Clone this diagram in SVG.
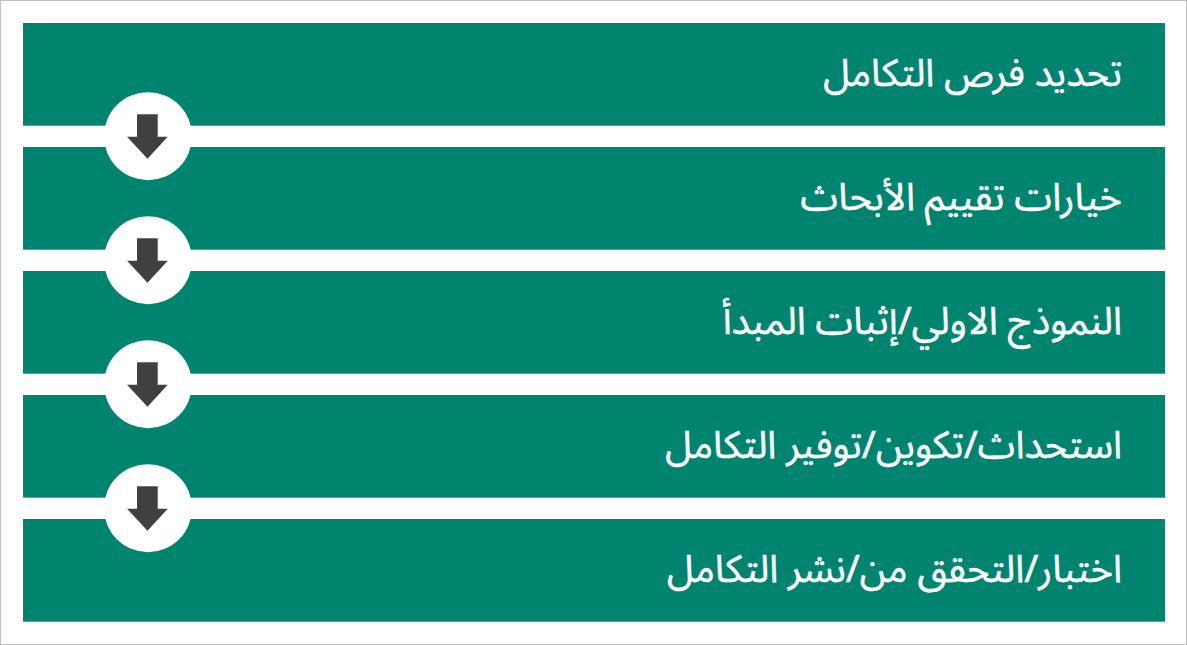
<svg xmlns="http://www.w3.org/2000/svg" width="1187" height="645" viewBox="0 0 1187 645">
<style>
.bar{fill:#00846f}
.lbl{fill:#ffffff;stroke:#ffffff;stroke-width:0.5px;font-family:"Noto Sans Arabic","Noto Sans","DejaVu Sans",sans-serif;font-size:38px}
.hole{fill:#ffffff}
.arr{fill:#404040}
</style>
<defs>
<path id="dn" class="arr" d="M-11,-22 H9.7 V0.5 H19.7 L-0.5,22.5 L-21,0.5 H-11 Z"/>
</defs>
<rect x="0.5" y="0.5" width="1186" height="644" fill="#ffffff" stroke="#c0c0c0" stroke-width="1"/>
<g id="step1"><rect class="bar" x="23" y="23" width="1142" height="102.7"/><text class="lbl" x="1122" y="86" direction="rtl" text-anchor="start">تحديد فرص التكامل</text></g>
<g id="step2"><rect class="bar" x="23" y="147" width="1142" height="102.7"/><text class="lbl" x="1122" y="210" direction="rtl" text-anchor="start">خيارات تقييم الأبحاث</text></g>
<g id="step3"><rect class="bar" x="23" y="271" width="1142" height="102.7"/><text class="lbl" x="1122" y="334" direction="rtl" text-anchor="start">النموذج الاولي/إثبات المبدأ</text></g>
<g id="step4"><rect class="bar" x="23" y="395" width="1142" height="102.7"/><text class="lbl" x="1122" y="458" direction="rtl" text-anchor="start">استحداث/تكوين/توفير التكامل</text></g>
<g id="step5"><rect class="bar" x="23" y="519" width="1142" height="102.7"/><text class="lbl" x="1122" y="582" direction="rtl" text-anchor="start">اختبار/التحقق من/نشر التكامل</text></g>
<g id="connectors">
<circle class="hole" cx="148" cy="136.2" r="44"/><use href="#dn" x="148" y="136.2"/>
<circle class="hole" cx="148" cy="260.2" r="44"/><use href="#dn" x="148" y="260.2"/>
<circle class="hole" cx="148" cy="384.2" r="44"/><use href="#dn" x="148" y="384.2"/>
<circle class="hole" cx="148" cy="508.2" r="44"/><use href="#dn" x="148" y="508.2"/>
</g>
</svg>
